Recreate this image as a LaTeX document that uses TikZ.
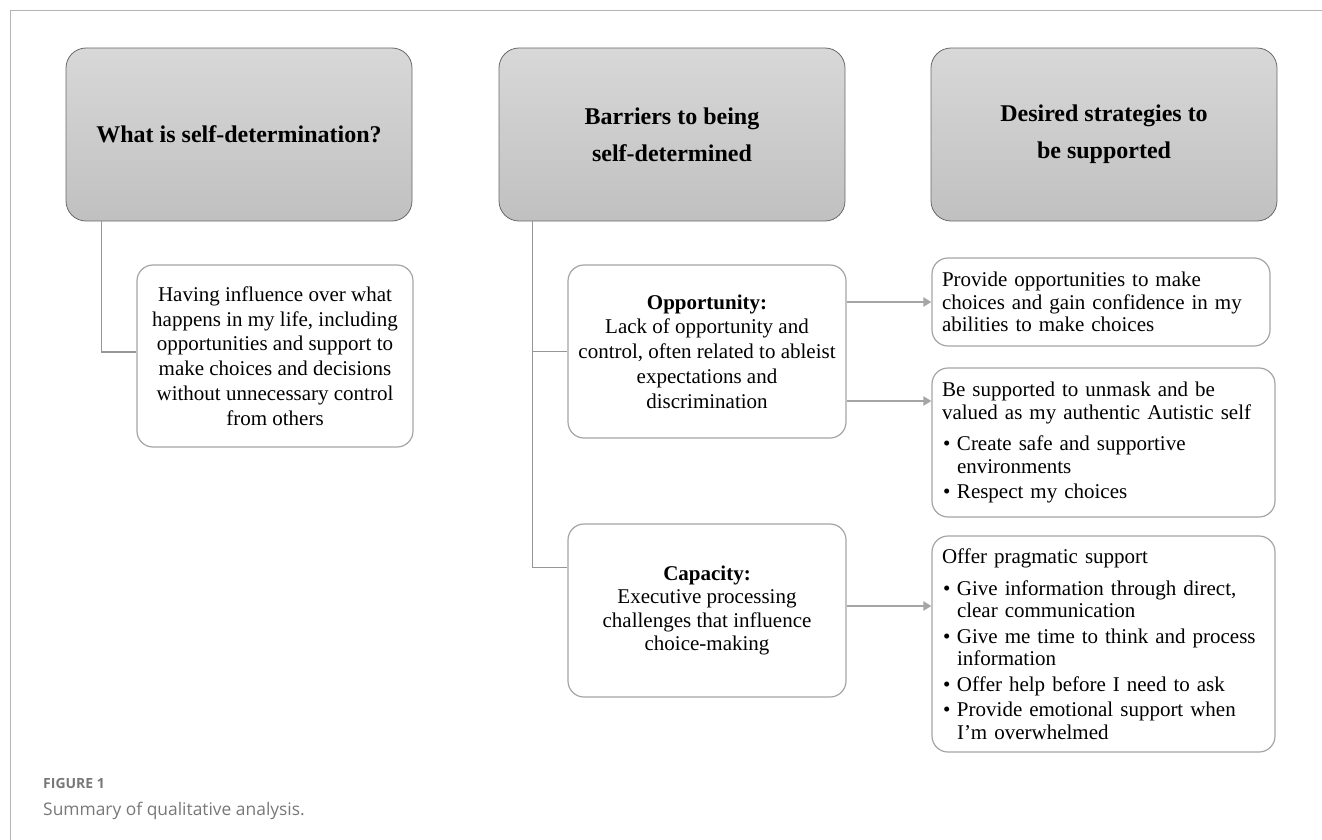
\documentclass[tikz,border=0pt]{standalone}
\usepackage{fontspec}
\setmainfont{Liberation Serif}
\newfontfamily\capfont{Open Sans}
\usepackage{tikz}
\usetikzlibrary{arrows.meta,calc,positioning}
\definecolor{framegray}{RGB}{180,180,180}
\definecolor{linegray}{RGB}{150,150,150}
\definecolor{arrowgray}{RGB}{165,165,165}
\definecolor{boxgray}{RGB}{165,165,165}
\definecolor{headdraw}{RGB}{105,105,105}
\definecolor{headtop}{RGB}{216,216,216}
\definecolor{headbot}{RGB}{192,192,192}
\definecolor{capgray}{RGB}{120,120,120}

\begin{document}
\begin{tikzpicture}[x=1pt,y=-1pt,
    header/.style={draw=headdraw, line width=0.8pt, rounded corners=20pt,
      top color=headtop, bottom color=headbot, minimum width=346pt,
      minimum height=173pt, align=center,
      font=\fontsize{24}{37}\selectfont\bfseries},
    midbox/.style={draw=boxgray, line width=1.2pt, rounded corners=16pt,
      fill=white, align=center, inner sep=0pt,
      font=\fontsize{21}{24.8}\selectfont},
    sidebox/.style={draw=boxgray, line width=1.2pt, rounded corners=16pt,
      fill=white, align=left, inner xsep=10pt, inner ysep=0pt,
      font=\fontsize{21}{22.5}\selectfont},
    conn/.style={draw=linegray, line width=1.5pt},
    arr/.style={draw=arrowgray, line width=2.8pt,
      -{Triangle[length=8pt,width=9pt]}}]
        \def\bul{\makebox[15pt][l]{\hspace{1pt}\textbullet}}
        \def\ind{\hspace*{15pt}}
        \useasboundingbox (0,0) rectangle (1322,840);
        %Frame
        \draw[framegray, line width=1pt] (1322,11) -- (10,11) -- (10,840);
        %Header boxes
        \node[header] (what) at (239,134.5) {What is self-determination?};
        \node[header] (barriers) at (672,134.5) {Barriers to being\\self-determined};
        \node[header] (desired) at (1104,134.5) {Desired strategies to\\be supported};
        %Middle boxes
        \node[midbox, minimum width=276pt, minimum height=182pt] (having) at (275,356)
          {Having influence over what\\happens in my life, including\\opportunities and support to\\make choices and decisions\\without unnecessary control\\from others};
        \node[midbox, minimum width=278pt, minimum height=173pt] (opp) at (707,351.5)
          {\textbf{Opportunity:}\\Lack of opportunity and\\control, often related to ableist\\expectations and\\discrimination};
        \node[midbox, minimum width=278pt, minimum height=173pt,
          font=\fontsize{21}{23.5}\selectfont] (cap) at (707,610.5)
          {\textbf{Capacity:}\\Executive processing\\challenges that influence\\choice-making};
        %Strategy boxes
        \node[sidebox, text width=318pt, minimum height=88pt] (choices) at (1101,302)
          {Provide opportunities to make\\choices and gain confidence in my\\abilities to make choices};
        \node[sidebox, text width=323pt, minimum height=149pt] (unmask) at (1103.5,442.5)
          {Be supported to unmask and be\\valued as my authentic Autistic self\\[9pt]
           \bul Create safe and supportive\\\ind environments\\[3pt]
           \bul Respect my choices};
        \node[sidebox, text width=323pt, minimum height=216pt] (pragmatic) at (1103.5,644)
          {Offer pragmatic support\\[9pt]
           \bul Give information through direct,\\\ind clear communication\\[3pt]
           \bul Give me time to think and process\\\ind information\\[3pt]
           \bul Offer help before I need to ask\\[3pt]
           \bul Provide emotional support when\\\ind I'm overwhelmed};
        %Joins
        \coordinate (whatroot) at ([xshift=36pt]what.south west);
        \coordinate (barroot) at ([xshift=34pt]barriers.south west);
        \coordinate (havingin) at ([yshift=4pt]having.west);
        \coordinate (capin) at ([yshift=43pt]cap.west);
        \coordinate (unmaskin) at ([yshift=41.5pt]unmask.west);
        \coordinate (pragin) at ([yshift=38pt]pragmatic.west);
        %Tree lines
        \draw[conn] (whatroot) |- (havingin);
        \draw[conn] (barroot) |- (opp.west);
        \draw[conn] (barroot) |- (capin);
        %Arrows
        \draw[arr] (opp.east |- choices.west) -- (choices.west);
        \draw[arr] (opp.east |- unmaskin) -- (unmaskin);
        \draw[arr] (cap.east |- pragin) -- (pragin);
        %Caption
        \node[anchor=base west, inner sep=0pt, text=capgray, font=\capfont\fontsize{14}{16}\selectfont\bfseries] (figlabel) at (43,788) {FIGURE 1};
        \node[anchor=base west, inner sep=0pt, text=capgray, font=\capfont\fontsize{17.4}{20}\selectfont] (figtext) at (43,815) {Summary of qualitative analysis.};
      \end{tikzpicture}
\end{document}
